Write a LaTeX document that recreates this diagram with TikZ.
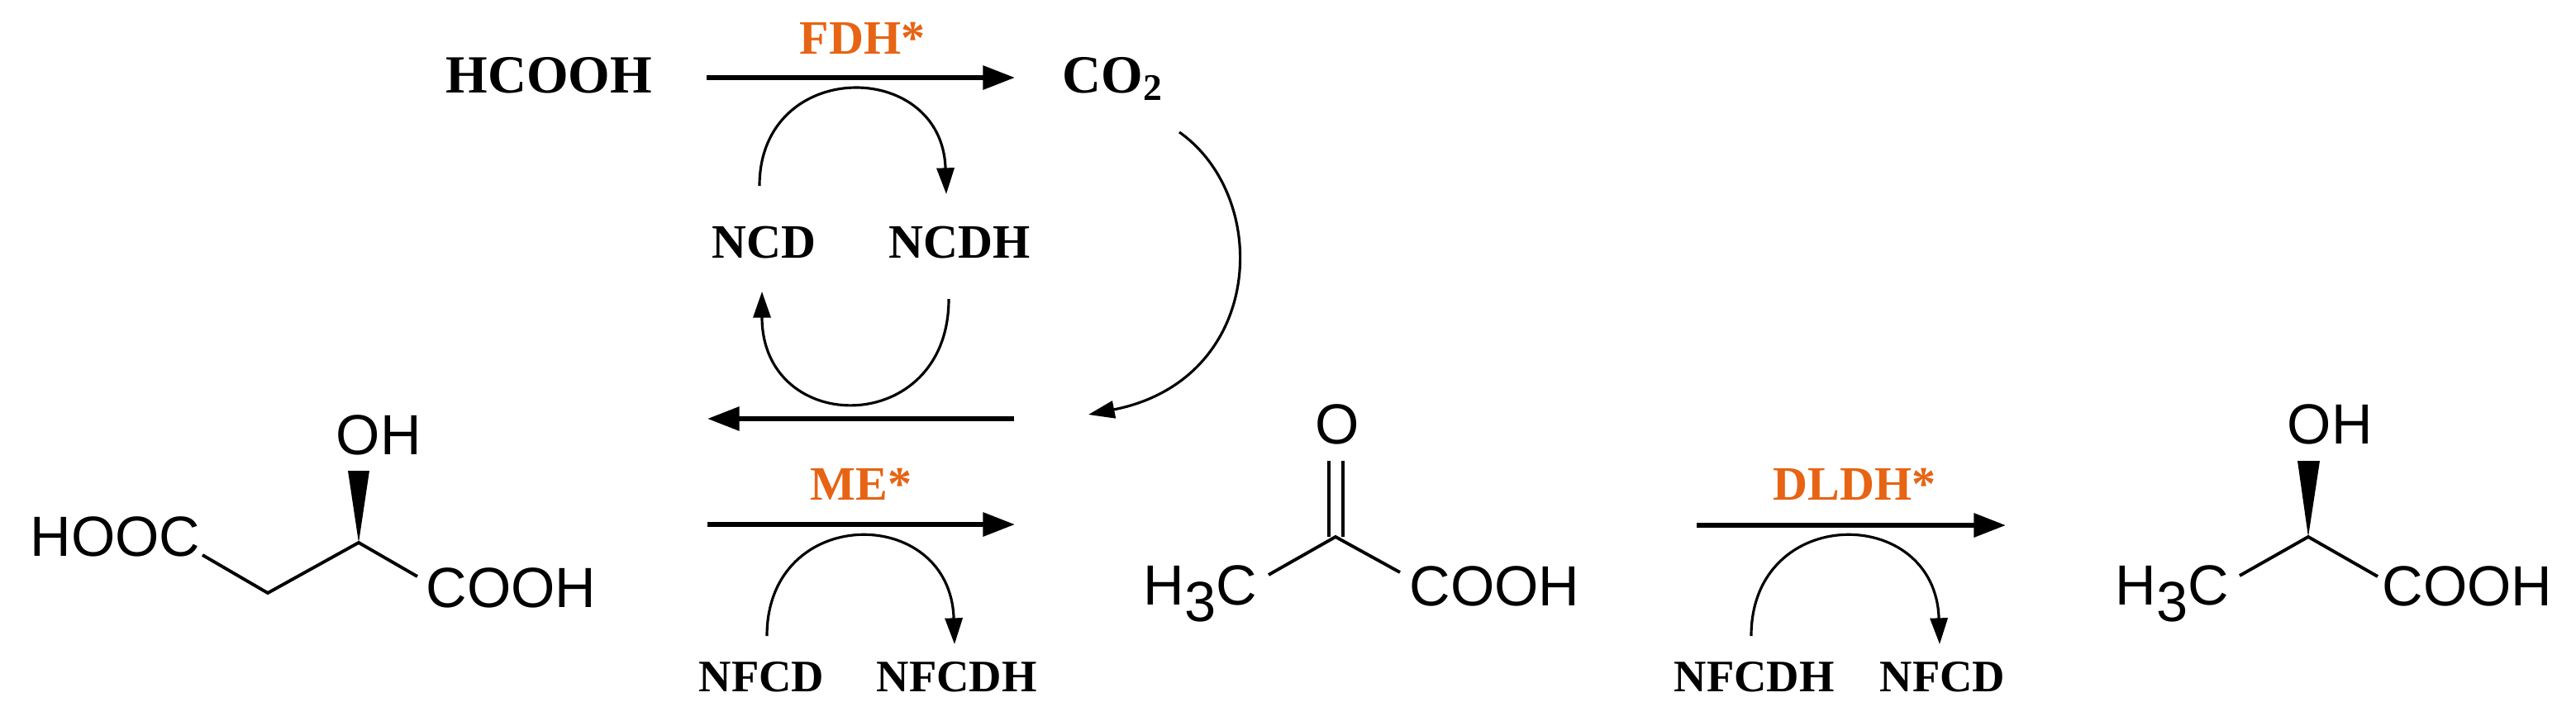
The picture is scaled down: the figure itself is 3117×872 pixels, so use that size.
\documentclass[tikz,border=0pt]{standalone}
\usepackage{fontspec}
\setmainfont{Liberation Serif}
\newfontfamily\arial{Liberation Sans}
\usetikzlibrary{arrows.meta}
\definecolor{enz}{RGB}{230,100,20}
\begin{document}
\begin{tikzpicture}[x=0.01cm,y=-0.01cm,
  lbl/.style={inner sep=0,anchor=base west,font=\fontsize{18.5}{20}\selectfont\bfseries},
  cof/.style={inner sep=0,anchor=base west,font=\fontsize{16.5}{18}\selectfont\bfseries},
  cof2/.style={inner sep=0,anchor=base west,font=\fontsize{15.5}{17}\selectfont\bfseries},
  enzl/.style={inner sep=0,anchor=base west,text=enz,font=\fontsize{16.5}{18}\selectfont\bfseries},
  chem/.style={inner sep=0,anchor=base west,font=\arial\fontsize{19.5}{21}\selectfont},
  rxn/.style={line width=1.7pt,-{Triangle[length=11pt,width=8pt]}},
  cyc/.style={line width=0.9pt,-{Triangle[length=9pt,width=6pt]}},
  cycp/.style={line width=0.9pt},
  bond/.style={line width=1.1pt,line cap=butt}]
\useasboundingbox (0,0) rectangle (3117,872);
% top reaction
\node[lbl] (hcooh) at (539,112) {HCOOH};
\node[lbl] (co2) at (1285,112) {CO\textsubscript{2}};
\node[enzl] (fdh) at (967,65) {FDH*};
\coordinate (a1s) at (855,94); \coordinate (a1e) at (1228,94);
\draw[rxn] (a1s) -- (a1e);
\node[cof] (ncd) at (861,312) {NCD};
\node[cof] (ncdh) at (1075,312) {NCDH};
\coordinate (c1s) at (919,225); \coordinate (c1e) at (1145,235);
\draw[cyc] (c1s) .. controls (919,70) and (1140,70) .. (c1e);
\coordinate (c2s) at (1148,362); \coordinate (c2e) at (922,353);
\draw[cyc] (c2s) .. controls (1148,530) and (922,530) .. (c2e);
% co2 curve
\coordinate (bs) at (1427,160); \coordinate (be) at (1317,502);
\draw[cyc] (bs) .. controls (1540,240) and (1530,460) .. (be);
\coordinate (r1s) at (1227,507); \coordinate (r1e) at (856,507);
\draw[rxn] (r1s) -- (r1e);
% ME
\node[enzl] (me) at (980,605) {ME*};
\coordinate (a2s) at (856,635); \coordinate (a2e) at (1228,635);
\draw[rxn] (a2s) -- (a2e);
\node[cof2] (nfcd1) at (845,837) {NFCD};
\node[cof2] (nfcdh1) at (1060,837) {NFCDH};
\coordinate (c3s) at (928,770); \coordinate (c3e) at (1155,780);
\draw[cyc] (c3s) .. controls (928,610) and (1150,610) .. (c3e);
% DLDH
\node[enzl] (dldh) at (2145,605) {DLDH*};
\coordinate (a3s) at (2053,636); \coordinate (a3e) at (2427,636);
\draw[rxn] (a3s) -- (a3e);
\node[cof2] (nfcdh2) at (2025,837) {NFCDH};
\node[cof2] (nfcd2) at (2274,837) {NFCD};
\coordinate (c4s) at (2119,770); \coordinate (c4e) at (2347,780);
\draw[cyc] (c4s) .. controls (2119,610) and (2342,610) .. (c4e);
% malate
\node[chem] (hooc) at (36,673) {HOOC};
\node[chem] (oh1) at (406,550) {OH};
\node[chem] (cooh1) at (515,735) {COOH};
\coordinate (m1) at (245,672); \coordinate (m2) at (324,718);
\coordinate (m3) at (434,657); \coordinate (m4) at (505,698);
\draw[bond] (m1) -- (m2) -- (m3) -- (m4);
\fill (m3) -- (421,570) -- (447,570) -- cycle;
% pyruvate
\node[chem] (h3c1) at (1383,732) {H\raisebox{-0.3em}{\fontsize{19.5}{21}\selectfont 3}C};
\node[chem] (o1) at (1591,537) {O};
\node[chem] (cooh2) at (1705,733) {COOH};
\coordinate (p1) at (1535,696); \coordinate (p2) at (1616,650); \coordinate (p3) at (1694,693);
\draw[bond] (p1) -- (p2) -- (p3);
\draw[bond] (1608,558) -- (1608,650) (1625,558) -- (1625,650);
% lactate
\node[chem] (h3c2) at (2559,732) {H\raisebox{-0.3em}{\fontsize{19.5}{21}\selectfont 3}C};
\node[chem] (oh2) at (2767,537) {OH};
\node[chem] (cooh3) at (2882,733) {COOH};
\coordinate (l1) at (2710,697); \coordinate (l2) at (2793,650); \coordinate (l3) at (2877,698);
\draw[bond] (l1) -- (l2) -- (l3);
\fill (l2) -- (2780,558) -- (2807,558) -- cycle;
\end{tikzpicture}
\end{document}
